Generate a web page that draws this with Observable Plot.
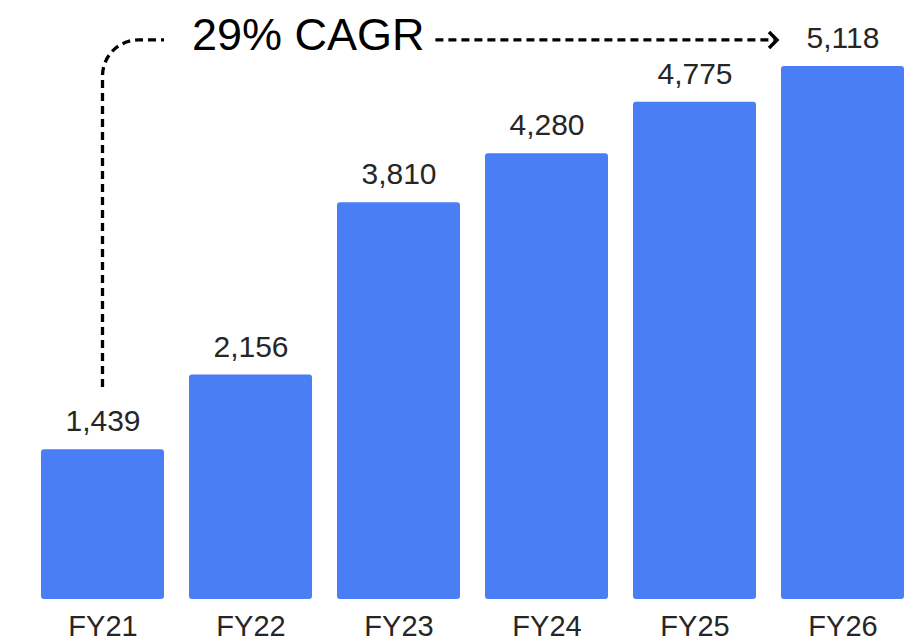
<!DOCTYPE html>
<html>
<head>
<meta charset="utf-8">
<script src="https://cdn.jsdelivr.net/npm/d3@7"></script>
<script src="https://cdn.jsdelivr.net/npm/@observablehq/plot@0.6"></script>
<style>
  html, body { margin: 0; padding: 0; background: #fff; }
  #chart svg { display: block; }
</style>
</head>
<body>
<div id="chart"></div>
<script>
// Data
const categories = ["FY21", "FY22", "FY23", "FY24", "FY25", "FY26"];
const values = [1439, 2156, 3810, 4280, 4775, 5118];
const valueLabels = ["1,439", "2,156", "3,810", "4,280", "4,775", "5,118"];

// Annotation (in data terms)
const cagrText = "29% CAGR";
const arrowFrom = "FY21";
const arrowTo = "FY26";
const arrowResume = "FY23";
const arrowYLow = 2036;
const arrowYHigh = 5368;

const data = categories.map((c, i) => ({ cat: c, value: values[i], label: valueLabels[i] }));

const annotation = (index, scales, values_, dimensions) => {
  const x = scales.x, y = scales.y;
  const bw = x.bandwidth();
  const xc = x(arrowFrom) + bw / 2;
  const yb = y(arrowYLow), yt = y(arrowYHigh);
  const xLeftEnd = x(arrowFrom) + bw;
  const xRightStart = x(arrowResume) + bw * 0.8;
  const tip = x(arrowTo) - 4;
  const g = d3.create("svg:g");
  const p = d3.path();
  p.moveTo(xc, yb);
  p.arcTo(xc, yt, xLeftEnd, yt, 36);
  p.lineTo(xLeftEnd, yt);
  g.append("path").attr("d", p.toString())
    .attr("fill", "none").attr("stroke", "#000").attr("stroke-width", 3.3)
    .attr("stroke-dasharray", "8,5");
  g.append("path").attr("d", `M${xRightStart},${yt}L${tip - 2},${yt}`)
    .attr("fill", "none").attr("stroke", "#000").attr("stroke-width", 3.3)
    .attr("stroke-dasharray", "8,5");
  g.append("path").attr("d", `M${tip - 8},${yt - 8}L${tip},${yt}L${tip - 8},${yt + 8}`)
    .attr("fill", "none").attr("stroke", "#000").attr("stroke-width", 3.5)
    .attr("stroke-linejoin", "miter");
  g.append("text").attr("x", xLeftEnd + 28).attr("y", yt + 10)
    .attr("fill", "#000").attr("font-size", 45)
    .attr("text-anchor", "start")
    .attr("font-family", "'Liberation Sans', Arial, sans-serif")
    .text(cagrText);
  return g.node();
};

const chart = Plot.plot({
  width: 904,
  height: 641,
  marginLeft: 41,
  marginRight: 0,
  marginTop: 66,
  marginBottom: 42,
  style: { fontFamily: "'Liberation Sans', Arial, sans-serif", color: "#262626", background: "#fff" },
  x: { domain: categories, paddingInner: 0.169, paddingOuter: 0, label: null },
  y: { domain: [0, 5118], axis: null },
  marks: [
    Plot.barY(data, { x: "cat", y: "value", fill: "#4a7ef5", rx: 3 }),
    Plot.text(data, { x: "cat", y: "value", text: "label", dy: -28, fontSize: 30, fill: "#262626" }),
    Plot.axisX({ tickSize: 0, tickPadding: 16, fontSize: 29, label: null }),
    annotation
  ]
});
document.getElementById("chart").appendChild(chart);
</script>
</body>
</html>
